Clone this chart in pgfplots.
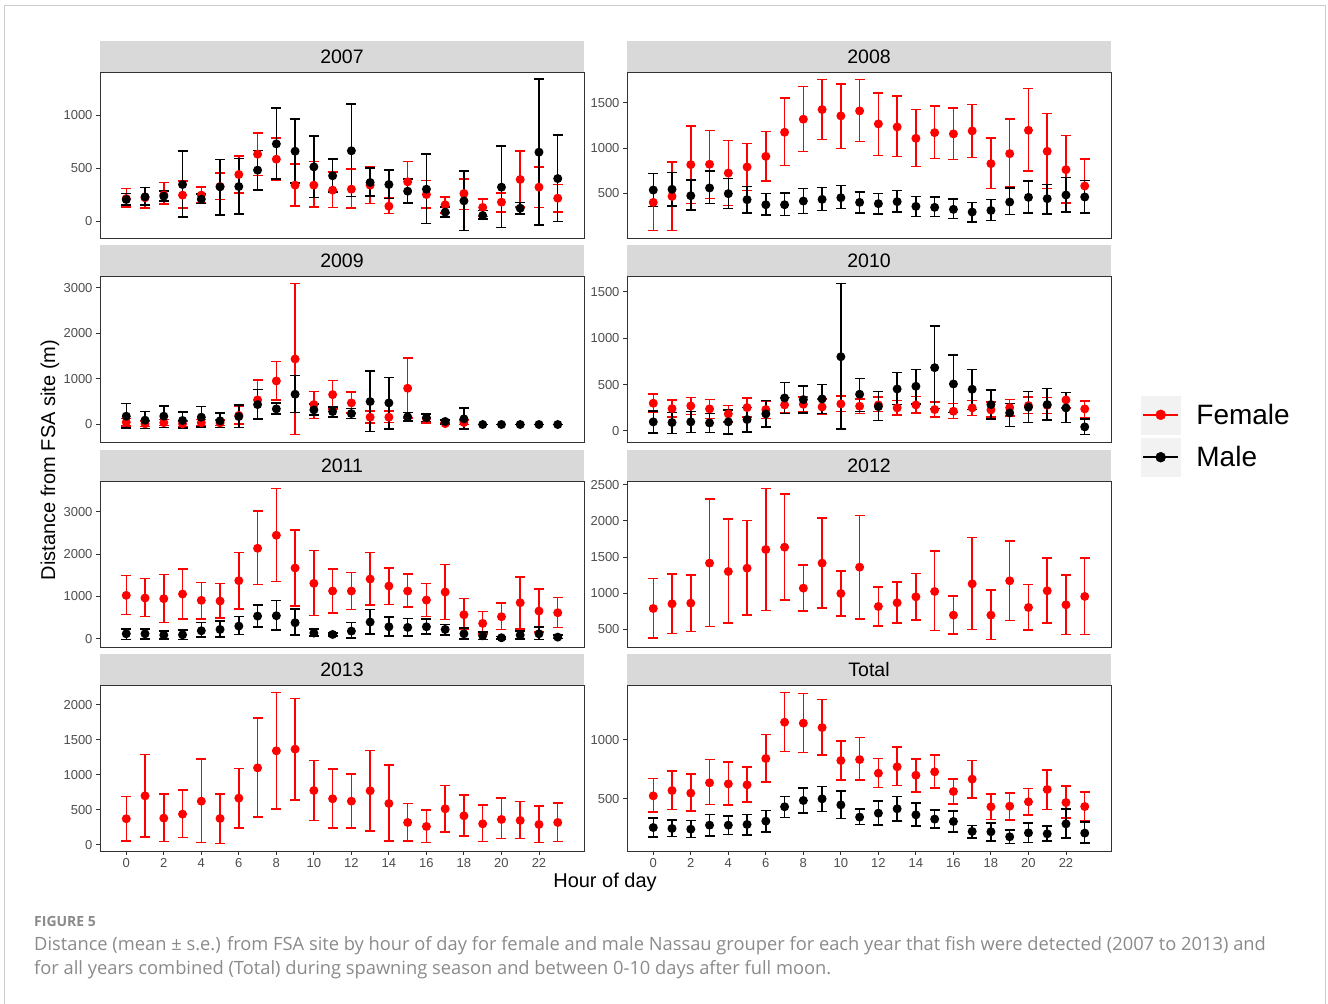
\documentclass[border=0pt]{standalone}
\usepackage{pgfplots}
\usepackage{pgfplotstable}
\pgfplotsset{compat=1.18}
\usepackage{fontspec}
\setmainfont{Liberation Sans}
\newfontfamily\capfont{Open Sans}
\definecolor{gtwenty}{HTML}{333333}
\definecolor{gthirty}{HTML}{4D4D4D}
\definecolor{gstrip}{HTML}{D9D9D9}
\definecolor{gkey}{HTML}{F2F2F2}
\definecolor{gframe}{HTML}{CCCCCC}
\definecolor{gcap}{HTML}{8A8A8A}
\definecolor{fred}{HTML}{FF0000}

% 2007
\pgfplotstableread{
h m lo hi
0 216 138 310
1 223 129 320
2 250 163 367
3 248 125 379
4 248 176 326
5 330 207 458
6 442 270 614
7 633 433 834
8 586 386 787
9 342 144 539
10 342 135 564
11 295 132 464
12 304 125 495
13 342 169 514
14 144 75 223
15 373 179 564
16 254 125 386
17 157 82 229
18 263 113 401
19 132 47 213
20 182 88 270
21 395 138 661
22 323 132 511
23 219 88 348
}\tAf
\pgfplotstableread{
h m lo hi
0 207 154 263
1 232 154 320
2 238 191 285
3 348 41 661
4 210 169 257
5 326 63 583
6 329 69 593
7 483 295 668
8 730 398 1069
9 661 364 962
10 514 226 803
11 430 276 586
12 665 235 1103
13 367 238 505
14 348 216 483
15 285 176 398
16 304 -19 636
17 88 44 135
18 194 -85 476
19 56 22 103
20 323 -56 708
21 125 72 179
22 652 -31 1339
23 404 0 815
}\tAm
% 2008
\pgfplotstableread{
h m lo hi
0 396 85 715
1 463 85 845
2 815 381 1241
3 819 441 1196
4 722 363 1085
5 789 530 1048
6 907 633 1185
7 1174 807 1552
8 1319 959 1682
9 1426 1096 1759
10 1356 996 1707
11 1411 1070 1759
12 1267 919 1611
13 1233 904 1574
14 1107 796 1426
15 1170 882 1463
16 1156 870 1441
17 1189 893 1482
18 826 548 1111
19 937 567 1319
20 1196 744 1659
21 963 548 1382
22 759 389 1137
23 578 278 878
}\tBf
\pgfplotstableread{
h m lo hi
0 533 348 715
1 541 356 730
2 470 311 644
3 556 381 744
4 493 330 659
5 426 281 574
6 370 256 496
7 370 248 500
8 411 274 548
9 430 307 559
10 448 326 585
11 396 278 511
12 382 267 496
13 404 289 526
14 352 241 463
15 341 237 456
16 319 215 433
17 289 181 396
18 307 193 426
19 400 259 556
20 452 281 633
21 437 267 593
22 478 289 674
23 456 278 641
}\tBm
% 2009
\pgfplotstableread{
h m lo hi
0 50 -30 130
1 15 -45 75
2 40 -25 105
3 15 -45 75
4 40 -25 105
5 36 -25 100
6 200 10 410
7 539 124 976
8 954 532 1384
9 1435 -218 3088
10 437 131 728
11 655 335 969
12 473 248 714
13 160 29 291
14 160 44 291
15 794 138 1457
16 130 36 233
17 20 -5 45
18 44 0 95
}\tCf
\pgfplotstableread{
h m lo hi
0 182 -73 459
1 95 -87 284
2 182 -66 408
3 87 -73 269
4 160 -51 393
5 80 -66 255
6 175 -66 430
7 437 117 765
8 342 226 466
9 663 262 1071
10 320 211 452
11 284 168 386
12 240 131 350
13 503 -153 1173
14 473 -102 1034
15 168 80 262
16 146 66 226
17 66 15 102
18 124 -95 364
19 0 0 0
20 0 0 0
21 0 0 0
22 0 0 0
23 0 0 0
}\tCm
% 2010
\pgfplotstableread{
h m lo hi
0 298 197 398
1 240 147 334
2 269 176 362
3 237 136 337
4 183 97 273
5 251 151 355
6 230 136 323
7 280 197 362
8 287 208 366
9 258 179 345
10 291 208 377
11 266 187 345
12 280 208 366
13 248 169 330
14 280 194 370
15 230 151 309
16 212 136 298
17 248 165 327
18 226 151 312
19 251 162 337
20 273 187 366
21 276 190 362
22 334 248 416
23 237 144 323
}\tDf
\pgfplotstableread{
h m lo hi
0 97 -25 212
1 90 -29 197
2 97 -18 208
3 86 -18 190
4 97 -36 226
5 122 -14 251
6 183 43 327
7 355 187 524
8 337 194 485
9 345 187 502
10 800 22 1590
11 395 208 563
12 262 111 423
13 452 287 628
14 481 291 664
15 682 244 1131
16 506 197 818
17 449 230 664
18 284 126 441
19 194 47 298
20 255 93 423
21 284 115 456
22 248 90 416
23 43 -39 126
}\tDm
% 2011
\pgfplotstableread{
h m lo hi
0 1024 567 1496
1 961 520 1417
2 945 386 1512
3 1055 472 1646
4 906 472 1331
5 890 488 1307
6 1370 701 2039
7 2134 1276 3016
8 2441 1354 3543
9 1669 772 2567
10 1307 543 2079
11 1126 606 1646
12 1126 693 1567
13 1409 795 2031
14 1244 811 1669
15 1126 748 1528
16 913 520 1307
17 1102 457 1748
18 567 213 945
19 362 110 638
20 520 213 843
21 850 236 1457
22 654 157 1173
23 614 268 976
}\tEf
\pgfplotstableread{
h m lo hi
0 118 -16 236
1 118 -8 236
2 87 -10 189
3 94 -16 205
4 189 39 378
5 220 39 417
6 299 102 528
7 535 283 795
8 543 205 898
9 378 94 701
10 134 63 236
11 102 71 134
12 181 16 378
13 394 118 685
14 283 71 512
15 268 63 480
16 283 110 465
17 220 87 339
18 118 -8 252
19 71 -16 165
20 24 -5 55
21 87 -10 189
22 118 -16 283
23 39 8 87
}\tEm
% 2012
\pgfplotstableread{
h m lo hi
0 786 375 1202
1 851 440 1262
2 860 468 1248
3 1415 537 2306
4 1299 588 2024
5 1345 694 2006
6 1604 759 2449
7 1636 906 2375
8 1068 749 1391
9 1415 791 2038
10 994 685 1308
11 1359 643 2075
12 814 546 1082
13 865 583 1156
14 948 629 1271
15 1022 482 1581
16 694 435 962
17 1128 495 1770
18 694 357 1045
19 1170 620 1724
20 800 486 1119
21 1031 588 1488
22 837 426 1248
23 953 426 1488
}\tFf
% 2013
\pgfplotstableread{
h m lo hi
0 371 52 689
1 698 114 1288
2 380 48 722
3 437 100 779
4 622 29 1226
5 375 19 727
6 665 242 1088
7 1097 394 1810
8 1340 513 2171
9 1364 641 2086
10 774 347 1202
11 656 242 1078
12 622 238 1012
13 770 195 1345
14 589 57 1140
15 318 57 589
16 261 33 499
17 513 181 846
18 413 124 713
19 299 43 565
20 361 86 665
21 347 86 618
22 290 33 556
23 318 43 594
}\tGf
% Total
\pgfplotstableread{
h m lo hi
0 525 390 671
1 570 410 736
2 548 399 708
3 635 452 831
4 626 447 812
5 618 475 770
6 840 643 1042
7 1146 899 1396
8 1138 890 1388
9 1101 871 1337
10 823 660 989
11 831 657 1017
12 716 596 840
13 770 612 935
14 699 559 837
15 728 590 868
16 562 458 669
17 666 508 823
18 433 326 539
19 438 323 551
20 475 362 587
21 579 410 744
22 469 337 607
23 435 315 559
}\tHf
\pgfplotstableread{
h m lo hi
0 258 177 337
1 250 183 320
2 244 174 317
3 278 185 368
4 278 199 354
5 284 194 368
6 312 222 402
7 433 343 520
8 486 379 593
9 500 393 604
10 449 334 567
11 346 284 413
12 379 278 480
13 416 312 520
14 365 270 463
15 329 256 407
16 309 219 396
17 225 171 275
18 222 143 298
19 180 124 239
20 213 132 298
21 205 143 270
22 289 168 413
23 211 126 306
}\tHm

\pgfplotsset{
  panel/.style={
    scale only axis, width=484pt, height=166pt, anchor=north west,
    xmin=-1.4, xmax=24.4,
    axis line style={draw=gtwenty, line width=0.9pt},
    every tick/.style={draw=gtwenty, line width=0.9pt},
    tick align=outside, major tick length=4pt,
    xtick=\empty, xtick pos=bottom, ytick pos=left,
    yticklabel style={font=\fontsize{13}{13}\selectfont, text=gthirty},
    xticklabel style={font=\fontsize{13}{13}\selectfont, text=gthirty},
    /pgf/number format/assume math mode=true,
    /pgf/number format/1000 sep={},
    scaled y ticks=false,
    clip=false,
  },
  bottomrow/.style={xtick={0,2,...,22}},
  errbase/.style={only marks, mark=*, mark size=3.7pt, line width=1.5pt,
    error bars/y dir=both, error bars/y explicit},
  fem/.style={errbase, color=fred, mark options={draw=fred, fill=fred, line width=1.5pt},
    error bars/error bar style={line width=1.5pt, color=fred},
    error bars/error mark options={rotate=90, color=fred, mark size=5pt, line width=1.5pt}},
  mal/.style={errbase, color=black, mark options={draw=black, fill=black, line width=1.5pt},
    error bars/error bar style={line width=1.5pt, color=black},
    error bars/error mark options={rotate=90, color=black, mark size=5pt, line width=1.5pt}},
}
\newcommand{\sers}[2]{\addplot[#1, forget plot] table[x=h, y=m, y error plus expr=\thisrow{hi}-\thisrow{m}, y error minus expr=\thisrow{m}-\thisrow{lo}] {#2};}

\begin{document}
\begin{tikzpicture}
\useasboundingbox (0pt,0pt) rectangle (1328pt,1004pt);
\draw[gframe, line width=1pt] (4.5pt,0pt) -- (4.5pt,998pt) -- (1325.5pt,998pt) -- (1325.5pt,0pt);

% strips
\begin{scope}[x=1pt, y=1pt]
\foreach \xx/\yy/\lab in {100/932/2007, 627/932/2008, 100/728/2009, 627/728/2010, 100/523/2011, 627/523/2012, 100/319/2013, 627/319/Total}{
  \fill[gstrip] (\xx,\yy) rectangle ({\xx+484},{\yy+31});
  \node[font=\fontsize{19.5}{19.5}\selectfont, text=black, inner sep=0pt] at ({\xx+242},{\yy+15.5}) {\lab};
}
\end{scope}

% 2007
\begin{axis}[panel, at={(100pt,932pt)}, ymin=-155, ymax=1406, ytick={0,500,1000}]
\sers{fem}{\tAf}
\sers{mal}{\tAm}
\end{axis}
% 2008
\begin{axis}[panel, at={(627pt,932pt)}, ymin=1, ymax=1843, ytick={0,500,1000,1500}]
\sers{fem}{\tBf}
\sers{mal}{\tBm}
\end{axis}
% 2009
\begin{axis}[panel, at={(100pt,728pt)}, ymin=-383, ymax=3253, ytick={0,1000,2000,3000}]
\sers{fem}{\tCf}
\sers{mal}{\tCm}
\end{axis}
% 2010
\begin{axis}[panel, at={(627pt,728pt)}, ymin=-120, ymax=1671, ytick={0,500,1000,1500},
  legend style={at={(1.062,0.036)}, anchor=west, draw=none, fill=none, inner sep=0pt, outer sep=0pt,
    row sep=4pt, column sep=16pt, font=\fontsize{28}{28}\selectfont, nodes={inner sep=0pt}},
  legend cell align=left]
\sers{fem}{\tDf}
\sers{mal}{\tDm}
\addlegendimage{legend image code/.code={
  \fill[gkey] (0pt,-19pt) rectangle (39pt,19pt);
  \draw[fred, line width=1.5pt] (2pt,0pt) -- (37pt,0pt);
  \fill[fred] (19.5pt,0pt) circle (5pt);}}
\addlegendentry{Female}
\addlegendimage{legend image code/.code={
  \fill[gkey] (0pt,-19pt) rectangle (39pt,19pt);
  \draw[black, line width=1.5pt] (2pt,0pt) -- (37pt,0pt);
  \fill[black] (19.5pt,0pt) circle (5pt);}}
\addlegendentry{Male}
\end{axis}
% 2011
\begin{axis}[panel, at={(100pt,523pt)}, ymin=-194, ymax=3721, ytick={0,1000,2000,3000}]
\sers{fem}{\tEf}
\sers{mal}{\tEm}
\end{axis}
% 2012
\begin{axis}[panel, at={(627pt,523pt)}, ymin=252, ymax=2554, ytick={500,1000,1500,2000,2500}]
\sers{fem}{\tFf}
\end{axis}
% 2013
\begin{axis}[panel, bottomrow, at={(100pt,319pt)}, ymin=-89, ymax=2279, ytick={0,500,1000,1500,2000}]
\sers{fem}{\tGf}
\end{axis}
% Total
\begin{axis}[panel, bottomrow, at={(627pt,319pt)}, ymin=60, ymax=1460, ytick={500,1000}]
\sers{fem}{\tHf}
\sers{mal}{\tHm}
\end{axis}

% axis titles
\node[font=\fontsize{20}{20}\selectfont, rotate=90, inner sep=0pt] at (50pt,544pt) {Distance from FSA site (m)};
\node[font=\fontsize{20}{20}\selectfont, inner sep=0pt] at (605pt,122pt) {Hour of day};

% caption
\node[anchor=base west, inner sep=0pt, text=gcap, font=\capfont\bfseries\fontsize{14}{14}\selectfont] at (34pt,77pt) {FIGURE 5};
\node[anchor=base west, inner sep=0pt, text=gcap, font=\capfont\fontsize{18.3}{18.3}\selectfont] at (34pt,53pt) {Distance (mean ± s.e.) from FSA site by hour of day for female and male Nassau grouper for each year that fish were detected (2007 to 2013) and};
\node[anchor=base west, inner sep=0pt, text=gcap, font=\capfont\fontsize{18.3}{18.3}\selectfont] at (34pt,29pt) {for all years combined (Total) during spawning season and between 0-10 days after full moon.};
\end{tikzpicture}
\end{document}
